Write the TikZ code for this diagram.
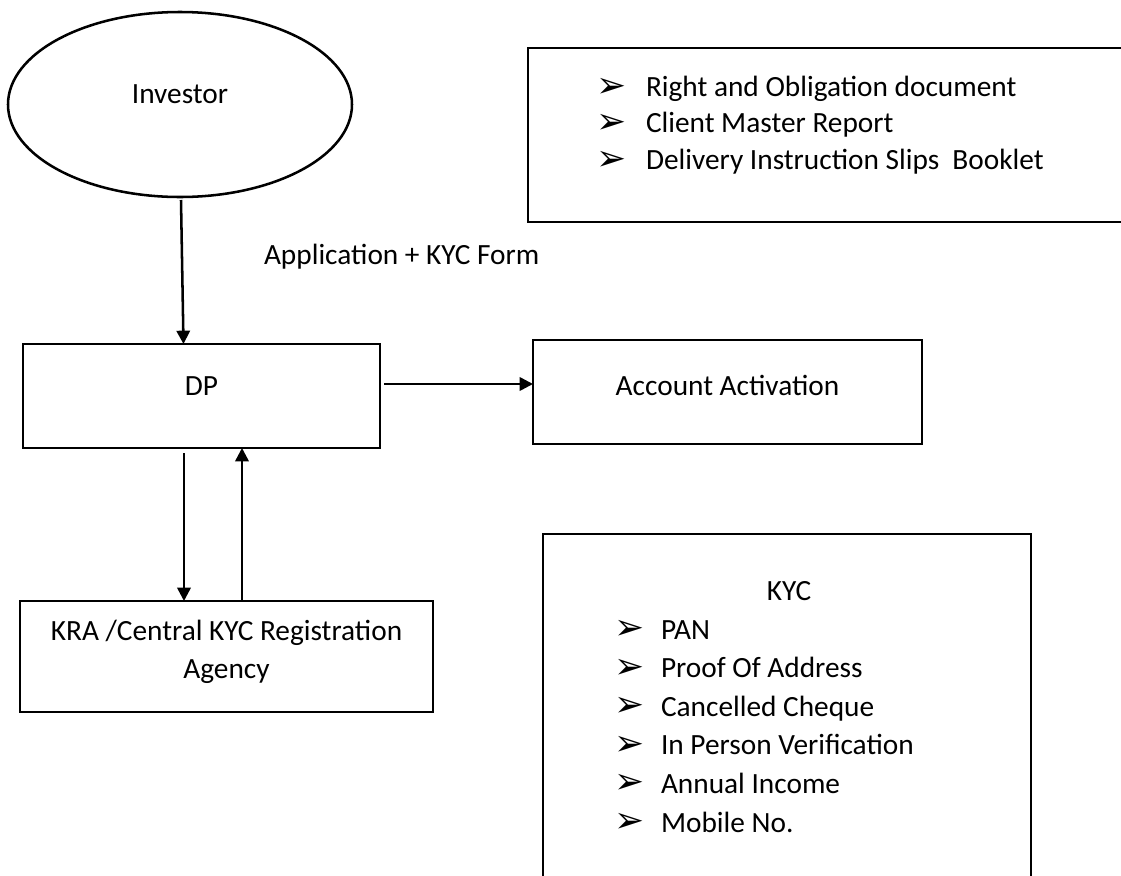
\documentclass[tikz,border=0pt]{standalone}
\usepackage{fontspec}
\setmainfont{Carlito}
\newfontfamily\symfont{DejaVu Sans}
\usetikzlibrary{shapes.geometric,arrows.meta}
\begin{document}
\begin{tikzpicture}[x=0.75pt,y=-0.75pt,
  every node/.style={inner sep=0pt,outer sep=0pt,font=\fontsize{22pt}{26pt}\selectfont},
  box/.style={draw,line width=1.9pt,rectangle},
  arr/.style={line width=1.9pt,-{Triangle[length=10pt,width=10pt]}},
  lbl/.style={anchor=base},
  item/.style={anchor=base west},
  bul/.style={anchor=base west,font=\symfont\fontsize{27pt}{30pt}\selectfont}]
\useasboundingbox (0,0) rectangle (1121,875);
\clip (0,0) rectangle (1121,875);
% Investor
\node[ellipse,draw,line width=1.9pt,minimum width=258pt,minimum height=138.75pt] (inv) at (180,104.5) {};
\node[lbl] (invt) at (180,103) {Investor};
% DP
\node[box,minimum width=267.75pt,minimum height=78pt] (dp) at (201.5,396) {};
\node[lbl] (dpt) at (201.5,395) {DP};
% Account Activation
\node[box,minimum width=291.75pt,minimum height=78pt] (acc) at (727.5,392) {};
\node[lbl] (acct) at (727.5,395) {Account Activation};
% KRA
\node[box,minimum width=309.75pt,minimum height=83.25pt] (kra) at (226.5,656.5) {};
\node[lbl] (krat1) at (226.5,640) {KRA /Central KYC Registration};
\node[lbl] (krat2) at (226.5,678) {Agency};
% Application label
\node[item] (app) at (264,264) {Application + KYC Form};
% Documents box
\node[box,minimum width=451.5pt,minimum height=130.5pt] (docs) at (829,135) {};
\node[bul] (db1) at (596,97) {➢};
\node[item] (d1) at (646,96.5) {Right and Obligation document};
\node[bul] (db2) at (596,133) {➢};
\node[item] (d2) at (646,132.5) {Client Master Report};
\node[bul] (db3) at (596,170) {➢};
\node[item] (d3) at (646,169.5) {Delivery Instruction Slips\ \ Booklet};
% KYC box
\node[box,minimum width=366pt,minimum height=267pt] (kyc) at (787,712) {};
\node[lbl] (kyct) at (789,600) {KYC};
\node[bul] (kb1) at (614,639.5) {➢};
\node[item] (k1) at (661,639) {PAN};
\node[bul] (kb2) at (614,678) {➢};
\node[item] (k2) at (661,677.6) {Proof Of Address};
\node[bul] (kb3) at (614,716.7) {➢};
\node[item] (k3) at (661,716.2) {Cancelled Cheque};
\node[bul] (kb4) at (614,755.3) {➢};
\node[item] (k4) at (661,754.8) {In Person Verification};
\node[bul] (kb5) at (614,793.9) {➢};
\node[item] (k5) at (661,793.4) {Annual Income};
\node[bul] (kb6) at (614,832.5) {➢};
\node[item] (k6) at (661,832) {Mobile No.};
% connectors
\draw[arr] ([shift={(1,3)}]inv.south) -- ([shift={(-18,0)}]dp.north);
\draw[arr] ([shift={(4,-12)}]dp.east) coordinate (a1) -- (a1 -| acc.west);
\draw[arr] ([shift={(-17.5,5)}]dp.south) coordinate (d1) -- (d1 |- kra.north);
\draw[arr] ([shift={(15.5,0)}]kra.north) coordinate (u1) -- (u1 |- dp.south);
\end{tikzpicture}
\end{document}
